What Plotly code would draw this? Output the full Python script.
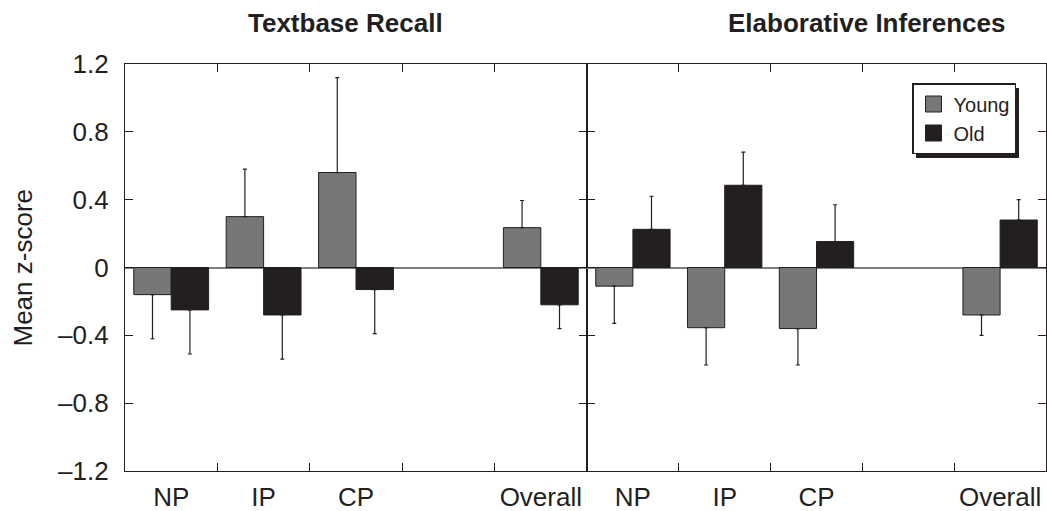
import plotly.graph_objects as go

# ---- data ----
categories = ["NP", "IP", "CP", " ", "Overall"]
bar_cats = ["NP", "IP", "CP", "Overall"]
y_ticks = [-1.2, -0.8, -0.4, 0, 0.4, 0.8, 1.2]
y_ticktext = ["\u20131.2", "\u20130.8", "\u20130.4", "0", "0.4", "0.8", "1.2"]

# Textbase Recall
tb_young = [-0.16, 0.30, 0.56, 0.235]
tb_young_err = [0.26, 0.28, 0.56, 0.16]
tb_old = [-0.25, -0.28, -0.13, -0.22]
tb_old_err = [0.26, 0.26, 0.26, 0.14]

# Elaborative Inferences
ei_young = [-0.11, -0.355, -0.36, -0.28]
ei_young_err = [0.22, 0.22, 0.215, 0.12]
ei_old = [0.225, 0.485, 0.153, 0.28]
ei_old_err = [0.195, 0.195, 0.217, 0.12]

panel_titles = ["Textbase Recall", "Elaborative Inferences"]
series_names = ["Young", "Old"]
young_color = "#777777"
old_color = "#231f20"
ink = "#231f20"
FONT = "Liberation Sans, Arial, sans-serif"

W, H = 1047, 511
ML, MR, MT, MB = 125, 1, 64, 40
PW = W - ML - MR
PH = H - MT - MB
split = (587 - ML) / PW


def px_x(px):
    return (px - ML) / PW


def px_y(py):
    return 1 - (py - MT) / PH


def err_dict(vals, errs):
    plus = [e if v > 0 else 0 for v, e in zip(vals, errs)]
    minus = [e if v < 0 else 0 for v, e in zip(vals, errs)]
    return dict(type="data", symmetric=False, array=plus, arrayminus=minus,
                color=ink, thickness=1.2, width=2)


fig = go.Figure()
for (vals, errs, color, xa, ya) in [
    (tb_young, tb_young_err, young_color, "x", "y"),
    (tb_old, tb_old_err, old_color, "x", "y"),
    (ei_young, ei_young_err, young_color, "x2", "y2"),
    (ei_old, ei_old_err, old_color, "x2", "y2"),
]:
    fig.add_trace(go.Bar(
        x=bar_cats, y=vals, xaxis=xa, yaxis=ya,
        marker=dict(color=color, line=dict(color=ink, width=1)),
        error_y=err_dict(vals, errs), showlegend=False,
    ))

# legend entries
for name, color in zip(series_names, [young_color, old_color]):
    fig.add_trace(go.Scatter(
        x=[None], y=[None], xaxis="x2", yaxis="y2", mode="markers", name=name,
        marker=dict(symbol="square", size=16, color=color, line=dict(color=ink, width=1)),
    ))

xcommon = dict(type="category", categoryorder="array", categoryarray=categories,
               range=[-0.5, 4.5], tickson="boundaries", ticks="inside", ticklen=8,
               tickwidth=1, tickcolor=ink, showline=True, linecolor=ink, linewidth=1.2,
               mirror="ticks", showgrid=False, zeroline=False, automargin=False,
               tickfont=dict(family=FONT, size=26, color="#231f20"),
               ticklabelstandoff=3)
ycommon = dict(range=[-1.2, 1.2], tickvals=y_ticks, ticktext=y_ticktext,
               ticks="inside", ticklen=8, tickwidth=1, tickcolor=ink,
               showline=True, linecolor=ink, linewidth=1.2, mirror="ticks",
               showgrid=False, zeroline=True, zerolinecolor="#808080", zerolinewidth=1.5,
               automargin=False,
               tickfont=dict(family=FONT, size=26, color="#231f20"))

fig.update_layout(
    width=W, height=H,
    margin=dict(l=ML, r=MR, t=MT, b=MB),
    paper_bgcolor="white", plot_bgcolor="white",
    barmode="group", bargap=0.19, bargroupgap=0,
    xaxis=dict(domain=[0, split], anchor="y", **xcommon),
    xaxis2=dict(domain=[split, 1], anchor="y2", **xcommon),
    yaxis=dict(anchor="x", ticklabelstandoff=10, **ycommon),
    yaxis2=dict(anchor="x2", matches="y", showticklabels=False, **ycommon),
    legend=dict(x=px_x(912), y=px_y(83), xanchor="left", yanchor="top",
                bgcolor="white", bordercolor=ink, borderwidth=1.5,
                font=dict(family=FONT, size=20, color=ink),
                itemsizing="trace", itemwidth=30),
    showlegend=True,
    font=dict(family=FONT, color=ink),
)

# legend drop shadow
fig.add_shape(type="rect", xref="paper", yref="paper",
              x0=px_x(916), x1=px_x(1019), y0=px_y(158), y1=px_y(88),
              fillcolor=ink, line=dict(width=0), layer="above")

# panel titles
for t, cx in zip(panel_titles, [345, 866]):
    fig.add_annotation(text=f"<b>{t}</b>", xref="paper", yref="paper",
                       x=px_x(cx), y=px_y(23), xanchor="center", yanchor="middle",
                       showarrow=False, font=dict(family=FONT, size=26, color=ink))

# y-axis title
fig.add_annotation(text="Mean z-score", xref="paper", yref="paper",
                   x=px_x(22), y=0.5, xanchor="center", yanchor="middle",
                   textangle=-90, showarrow=False,
                   font=dict(family=FONT, size=26, color=ink))

fig.write_html("out.html")
